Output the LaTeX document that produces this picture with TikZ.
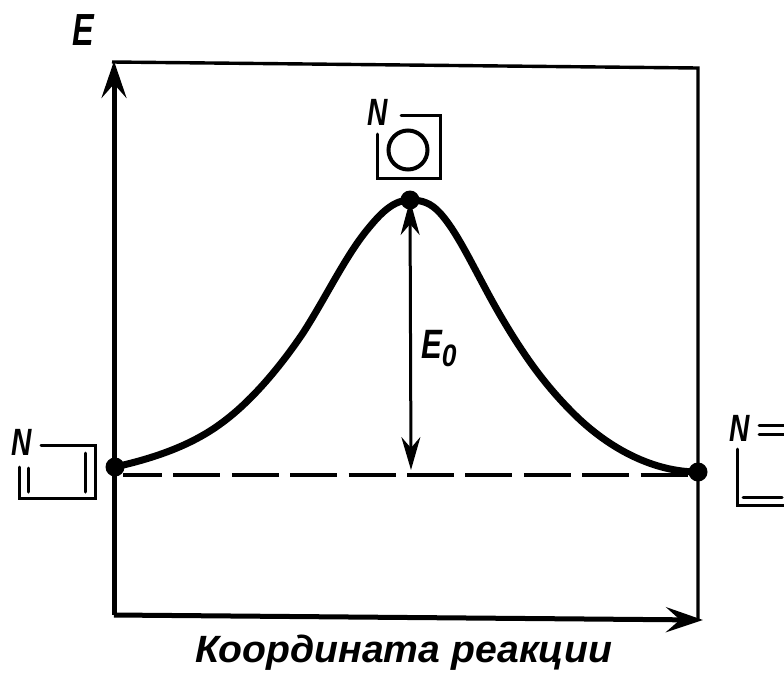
\documentclass[tikz,border=0pt]{standalone}
\usepackage{fontspec}
\usepackage{graphicx}
\setmainfont{Liberation Sans}
\usetikzlibrary{arrows.meta}
\newcommand{\hw}[3]{\scalebox{#2}[1]{\itshape\bfseries\fontsize{#1}{#1}\selectfont #3}}
\tikzset{
  frame/.style={line width=3.4pt,line cap=butt},
  axis/.style={line width=5pt},
  hand/.style={inner sep=0pt,text=black},
  dot/.style={circle,fill=black,inner sep=0pt,minimum size=19pt},
  box/.style={line width=3pt,line cap=round,line join=miter},
  open/.style={-{Stealth[length=37pt,width=25pt,inset=14pt]}},
  dim/.style={line width=3pt,{Stealth[length=35pt,width=19pt,inset=11pt]}-{Stealth[length=33pt,width=19pt,inset=11pt]}}
}
\begin{document}
\begin{tikzpicture}[x=1pt,y=-1pt]
\useasboundingbox (0,0) rectangle (784,672);
% named points
\coordinate (O) at (114,615);
\coordinate (Ytop) at (114,61);
\coordinate (TR) at (698,68);
\coordinate (BR) at (698,620);
\coordinate (Xtip) at (703,620);
\coordinate (Corner) at (112,62);
\node[dot] (L) at (115,467) {};
\node[dot] (P) at (410,200) {};
\node[dot] (R) at (698,472) {};
\coordinate (Base) at (411,470);
\coordinate (DashL) at (123,475);
\coordinate (DashR) at (692,475);
% axes and frame
\draw[frame] (Corner) -- (TR) -- (BR);
\draw[axis,open] (O) -- (Ytop);
\draw[axis,open] (O) -- (Xtip);
% dashed level
\draw[line width=3.4pt,dash pattern=on 47pt off 11.4pt,dash phase=8pt] (DashL) -- (DashR);
% curve
\draw[line width=7pt,line cap=round,line join=round]
  (L.center) .. controls (150,459) and (190,447) .. (223,422)
  .. controls (250,402) and (278,370) .. (303,333)
  .. controls (325,299) and (345,257) .. (367,230)
  .. controls (380,214) and (393,200) .. (P.center)
  .. controls (422,200) and (431,203) .. (440,213)
  .. controls (460,235) and (478,278) .. (503,320)
  .. controls (525,357) and (545,385) .. (573,413)
  .. controls (610,450) and (655,472) .. (R.center);
% activation energy
\draw[dim] (P.center) -- (Base);
\node[hand,anchor=base west] (E0) at (421,358) {\hw{41}{.76}{E}\raisebox{-8pt}{\hw{31}{.85}{0}}};
\node[hand] (Elab) at (83,30) {\hw{45}{.72}{E}};
% top complex
\node[hand] (Nt) at (378,112) {\hw{38}{.74}{N}};
\draw[box] (401,115) -- (440,115) -- (440,178) -- (377,178) -- (377,134);
\node[circle,draw,line width=4pt,minimum size=39pt,inner sep=0pt] (Ring) at (408,150) {};
% left complex
\node[hand] (Nl) at (22,442) {\hw{38}{.74}{N}};
\draw[box] (41,445) -- (95,445) -- (95,498) -- (19,498) -- (19,467);
\draw[box] (28,468) -- (28,492);
\draw[box] (85,453) -- (85,492);
% right complex
\node[hand] (Nr) at (740,428) {\hw{38}{.74}{N}};
\draw[box] (759,425) -- (784,425);
\draw[box] (759,434) -- (784,434);
\draw[box] (737,449) -- (737,505) -- (784,505);
\draw[box] (743,497) -- (782,497);
% caption
\node[hand,anchor=base] (Cap) at (404,662) {\hw{38}{1.03}{Координата реакции}};
\end{tikzpicture}
\end{document}
